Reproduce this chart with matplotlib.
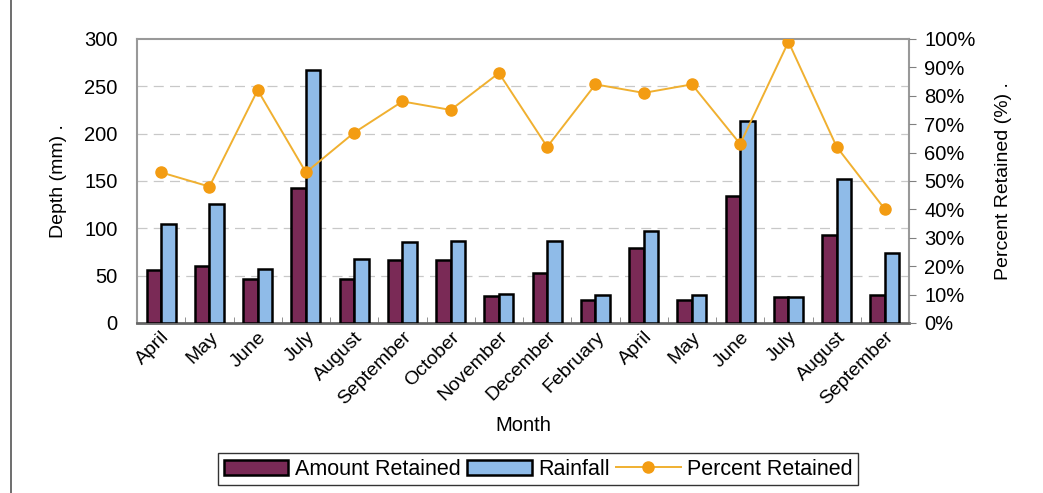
import numpy as np
import matplotlib.pyplot as plt
from matplotlib.lines import Line2D

plt.rcParams['font.family'] = ['Liberation Sans', 'DejaVu Sans']

# Datos
meses = ['April', 'May', 'June', 'July', 'August', 'September', 'October',
         'November', 'December', 'February', 'April', 'May', 'June', 'July',
         'August', 'September']
retenido = [56, 60, 46, 143, 46, 66, 66, 28, 53, 24, 79, 24, 134, 27, 93, 30]
lluvia = [105, 126, 57, 267, 67, 86, 87, 31, 87, 30, 97, 30, 213, 27, 152, 74]
porcentaje = [53, 48, 82, 53, 67, 78, 75, 88, 62, 84, 81, 84, 63, 99, 62, 40]

# Colores
morado = '#7a2a56'
azul = '#8fbbe8'
naranja_m = '#f39c12'
naranja_l = '#f0b030'
gris = '#808080'

fig = plt.figure(figsize=(10.43, 4.93), dpi=100)
ax = fig.add_axes([0.1314, 0.345, 0.7402, 0.576])
x = np.arange(len(meses))
w = 0.3

ax.bar(x - w/2, retenido, w, color=morado, edgecolor='black', linewidth=1.8,
       zorder=3, label='Amount Retained')
ax.bar(x + w/2, lluvia, w, color=azul, edgecolor='black', linewidth=1.8,
       zorder=3, label='Rainfall')

ax.set_xlim(-0.5, len(meses) - 0.5)
ax.set_ylim(0, 300); ax.set_yticks(np.arange(0, 301, 50))
for yv in range(50, 300, 50):
    ax.axhline(yv, color='#c8c8c8', ls=(0, (8, 5)), lw=0.9, zorder=1)
ax.set_xticks(x)
ax.set_xticklabels(meses, rotation=45, ha='right', rotation_mode='anchor',
                   fontsize=14)
ax.set_xticks(np.arange(-0.5, len(meses)), minor=True)
ax.tick_params(axis='x', which='major', length=0, pad=4)
ax.tick_params(axis='x', which='minor', length=4, color=gris, direction='in')
ax.tick_params(axis='y', length=0, labelsize=14.5, pad=14)
for s in ['top', 'right', 'left']:
    ax.spines[s].set_color('#999999'); ax.spines[s].set_linewidth(1.5)
ax.spines['bottom'].set_color('#666666'); ax.spines['bottom'].set_linewidth(2)
ax.set_ylabel('Depth (mm) .', fontsize=14, labelpad=12)
ax.set_xlabel('Month', fontsize=14.5, labelpad=6)

ax2 = ax.twinx()
ax2.plot(x, porcentaje, '-', color=naranja_l, lw=1.4, marker='o',
         markersize=8, markerfacecolor=naranja_m, markeredgecolor=naranja_m,
         zorder=4, label='Percent Retained')
ax2.set_ylim(0, 100); ax2.set_yticks(np.arange(0, 101, 10))
ax2.set_yticklabels([f'{v}%' for v in range(0, 101, 10)])
ax2.tick_params(axis='y', length=5, color=gris, labelsize=14.5, pad=6)
for s in ax2.spines.values():
    s.set_visible(False)
ax2.set_ylabel('Percent Retained (%) .', fontsize=14, labelpad=14)

# Leyenda
h1, l1 = ax.get_legend_handles_labels()
h2, l2 = ax2.get_legend_handles_labels()
fig.legend(h1 + h2, l1 + l2, loc='center', bbox_to_anchor=(0.516, 0.048),
           ncol=3, fontsize=15.5, frameon=True, fancybox=False,
           edgecolor='black', handlelength=3.0, columnspacing=0.3,
           handletextpad=0.3, borderpad=0.25)

# linea vertical del borde izquierdo
fig.add_artist(Line2D([0.0105, 0.0105], [0.0, 1.0], color='#555555', lw=1.2))

fig.savefig('out.png', dpi=100)
